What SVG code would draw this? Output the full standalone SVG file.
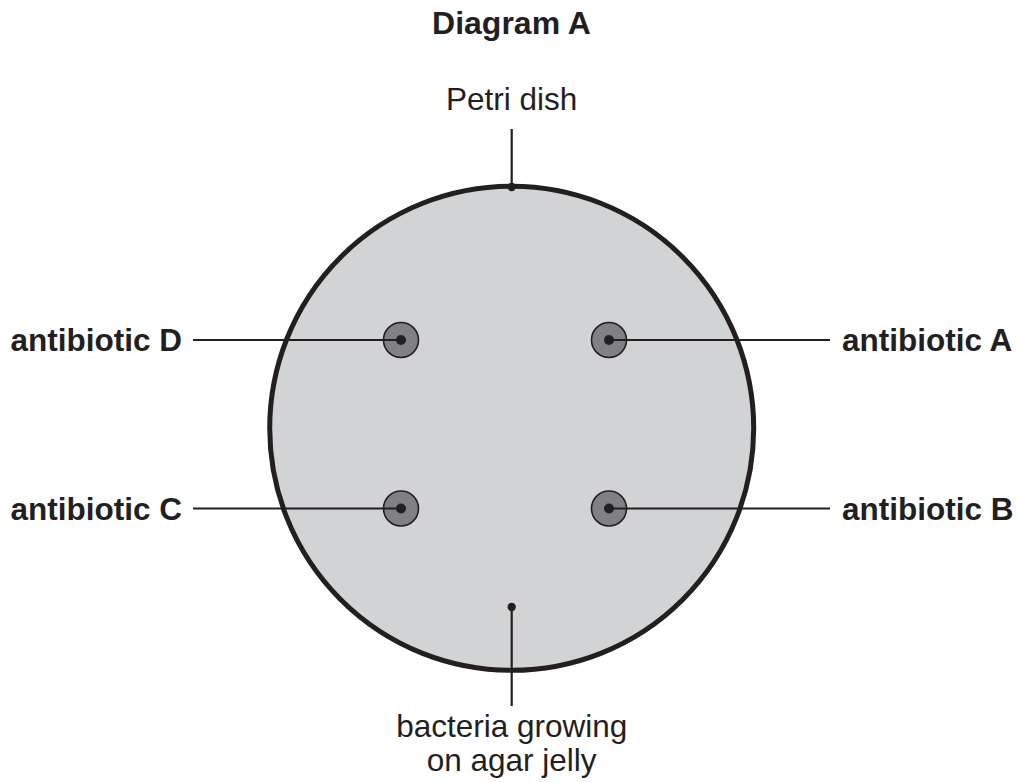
<svg xmlns="http://www.w3.org/2000/svg" width="1019" height="782" viewBox="0 0 1019 782">
<style>
.t{font-family:"Liberation Sans",Arial,sans-serif;font-size:31.5px;fill:#231f20}
.b{font-weight:bold}
.ln{stroke:#231f20;stroke-width:2.2;fill:none}
.disc{fill:#808184;stroke:#231f20;stroke-width:1.6}
.dot{fill:#231f20}
</style>
<rect width="1019" height="782" fill="#ffffff"/>
<text class="t b" x="511.5" y="33.5" text-anchor="middle" style="font-size:32px">Diagram A</text>
<g id="dish">
<circle cx="511.7" cy="428.3" r="242" fill="#d1d3d4" stroke="#231f20" stroke-width="5"/>
</g>
<g id="discD"><circle class="disc" cx="401" cy="340" r="17.5"/><circle class="dot" cx="401" cy="340" r="5"/></g>
<g id="discA"><circle class="disc" cx="609" cy="340" r="17.5"/><circle class="dot" cx="609" cy="340" r="5"/></g>
<g id="discC"><circle class="disc" cx="401" cy="508.5" r="17.5"/><circle class="dot" cx="401" cy="508.5" r="5"/></g>
<g id="discB"><circle class="disc" cx="609" cy="508.5" r="17.5"/><circle class="dot" cx="609" cy="508.5" r="5"/></g>
<g id="connectors">
<line class="ln" x1="511.7" y1="129" x2="511.7" y2="187"/>
<circle class="dot" cx="511.7" cy="187" r="4.2"/>
<line class="ln" x1="511.7" y1="607" x2="511.7" y2="706"/>
<circle class="dot" cx="511.7" cy="607" r="4.2"/>
<line class="ln" x1="193" y1="340" x2="401" y2="340"/>
<line class="ln" x1="609" y1="340" x2="830" y2="340"/>
<line class="ln" x1="193" y1="508.5" x2="401" y2="508.5"/>
<line class="ln" x1="609" y1="508.5" x2="830" y2="508.5"/>
</g>
<g id="labels">
<text class="t" x="511.7" y="110" text-anchor="middle">Petri dish</text>
<text class="t b" x="182" y="351" text-anchor="end">antibiotic D</text>
<text class="t b" x="842" y="351">antibiotic A</text>
<text class="t b" x="182" y="519.5" text-anchor="end">antibiotic C</text>
<text class="t b" x="842" y="519.5">antibiotic B</text>
<text class="t" x="511.7" y="737" text-anchor="middle">bacteria growing</text>
<text class="t" x="511.7" y="771" text-anchor="middle">on agar jelly</text>
</g>
</svg>
